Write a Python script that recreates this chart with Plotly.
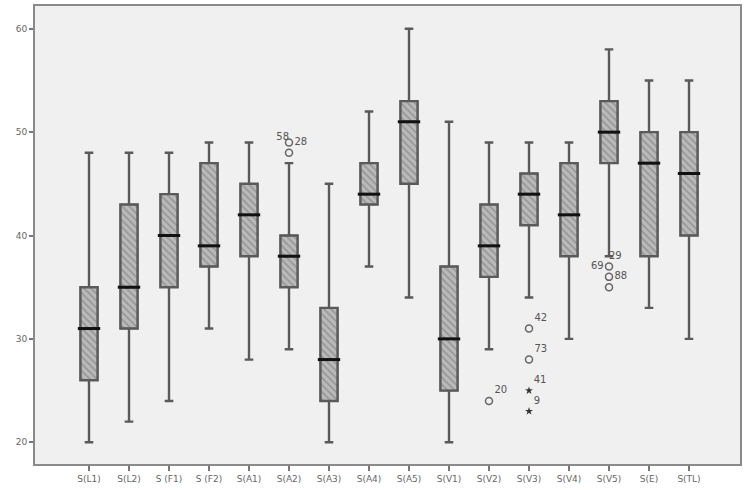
import plotly.graph_objects as go

labels = ["S(L1)", "S(L2)", "S (F1)", "S (F2)", "S(A1)", "S(A2)", "S(A3)", "S(A4)",
          "S(A5)", "S(V1)", "S(V2)", "S(V3)", "S(V4)", "S(V5)", "S(E)", "S(TL)"]
lower = [20, 22, 24, 31, 28, 29, 20, 37, 34, 20, 29, 34, 30, 38, 33, 30]
q1 = [26, 31, 35, 37, 38, 35, 24, 43, 45, 25, 36, 41, 38, 47, 38, 40]
median = [31, 35, 40, 39, 42, 38, 28, 44, 51, 30, 39, 44, 42, 50, 47, 46]
q3 = [35, 43, 44, 47, 45, 40, 33, 47, 53, 37, 43, 46, 47, 53, 50, 50]
upper = [48, 48, 48, 49, 49, 47, 45, 52, 60, 51, 49, 49, 49, 58, 55, 55]

# outliers (o) and extremes (*)
out_x = ["S(A2)", "S(A2)", "S(V2)", "S(V3)", "S(V3)", "S(V5)", "S(V5)", "S(V5)"]
out_y = [49, 48, 24, 31, 28, 37, 36, 35]
out_lab = ["28", "", "20", "42", "73", "69", "88", ""]
out_pos = ["middle right", "middle right", "top right", "top right", "top right",
           "middle left", "middle right", "middle right"]
ext_x = ["S(V3)", "S(V3)"]
ext_y = [25, 23]
ext_lab = ["41", "9"]
# extra case labels sitting on shared points
tag_x = ["S(A2)", "S(V5)"]
tag_y = [49, 38]
tag_lab = ["58", "29"]
tag_pos = ["top left", "middle right"]

fig = go.Figure()

# hatched box fill
fig.add_trace(go.Bar(
    x=labels, y=[b - a for a, b in zip(q1, q3)], base=q1, width=0.43,
    marker=dict(color="#bababa", line=dict(color="#666", width=1.5),
                pattern=dict(shape="\\", fgcolor="#767676", size=5, solidity=0.35)),
    hoverinfo="skip", showlegend=False))

fig.add_trace(go.Box(
    x=labels, q1=q1, median=median, q3=q3, lowerfence=lower, upperfence=upper,
    width=0.43, whiskerwidth=0.5, fillcolor="rgba(0,0,0,0)",
    line=dict(color="#5a5a5a", width=2.4), boxpoints=False, showlegend=False))

# thick median bars
fig.add_trace(go.Scatter(
    x=labels, y=median, mode="markers",
    marker=dict(symbol="line-ew", size=16, line=dict(color="#111", width=3)),
    showlegend=False, hoverinfo="skip"))

txt_font = dict(family="DejaVu Sans", size=10, color="#555")

fig.add_trace(go.Scatter(
    x=out_x, y=out_y, mode="markers+text", text=out_lab, textposition=out_pos,
    textfont=txt_font,
    marker=dict(symbol="circle-open", size=7, color="#666", line=dict(width=1.5)),
    showlegend=False))
fig.add_trace(go.Scatter(
    x=ext_x, y=ext_y, mode="markers+text", text=ext_lab, textposition="top right",
    textfont=txt_font,
    marker=dict(symbol="star", size=6, color="#333"),
    showlegend=False))
fig.add_trace(go.Scatter(
    x=tag_x, y=tag_y, mode="text", text=tag_lab, textposition=tag_pos,
    textfont=txt_font, showlegend=False))

fig.update_layout(
    width=750, height=490,
    margin=dict(l=35, r=10, t=6, b=26),
    paper_bgcolor="white", plot_bgcolor="#f0f0f0",
    font=dict(family="DejaVu Sans", size=9, color="#666"),
    showlegend=False,
)
fig.update_xaxes(
    type="category", range=[-1.35, 16.275], automargin=False,
    showline=True, mirror=True, linecolor="#8a8a8a", linewidth=2,
    ticks="outside", ticklen=5, tickcolor="#777", tickwidth=1.5,
    showgrid=False, zeroline=False)
fig.update_yaxes(
    range=[17.9, 62.2], tickvals=[20, 30, 40, 50, 60], automargin=False,
    showline=True, mirror=True, linecolor="#8a8a8a", linewidth=2,
    ticks="outside", ticklen=4, tickcolor="#777", tickwidth=1.5,
    showgrid=False, zeroline=False)

# drop the page's default body margin so the figure sits at the window corner
fig.write_html("out.html", config={"displayModeBar": False},
               post_script="document.body.style.margin='0px';")
